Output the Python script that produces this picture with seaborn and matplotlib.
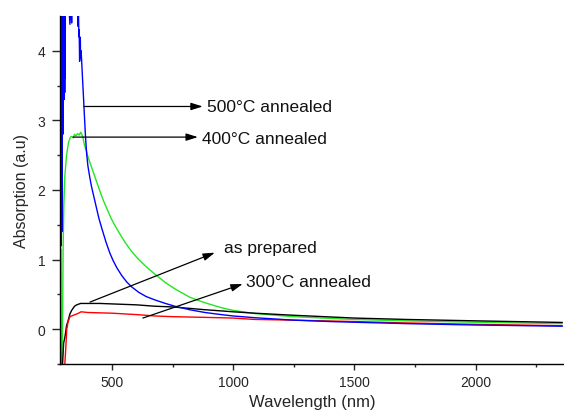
import matplotlib
matplotlib.use("Agg")
import matplotlib.pyplot as plt
import seaborn as sns
import pandas as pd

# ---- data ----
blue_nm = [285.5, 286, 286.5, 287, 287.5, 288, 288.5, 289, 289.5, 290, 290.5, 291, 291.5, 292,
           292.5, 293, 293.5, 294, 294.5, 295, 295.5, 296, 296.5, 297, 297.5, 298, 298.5, 299,
           299.5, 300, 300.5, 301, 301.5, 302, 302.5, 303, 303.5, 304, 304.5, 305, 305.5, 306,
           308, 315, 326, 327, 329, 331, 333, 335, 345, 358,
           360, 361, 363, 364, 366, 367, 369, 370, 372, 374, 378, 382, 386, 390, 395, 400, 408,
           415, 425, 435, 445, 460, 475, 490, 505, 520, 540, 560, 580, 610, 640, 677, 720, 759,
           820, 883, 950, 1000, 1089, 1250, 1400, 1500, 1714, 2000, 2358]
blue_abs = [1.2, 4.7, 1.15, 4.7, 1.5, 4.7, 1.3, 4.7, 1.2, 4.7, 1.6, 4.7, 2.0, 4.7,
            1.4, 4.7, 1.6, 4.7, 2.4, 4.7, 3.0, 4.7, 2.8, 4.7, 3.3, 4.7, 3.1, 4.7,
            3.5, 4.7, 3.3, 4.7, 3.3, 4.7, 3.4, 4.7, 3.6, 4.7, 3.4, 4.7, 3.8, 4.7,
            4.7, 5.0, 4.38, 4.7, 4.45, 4.7, 4.4, 4.7, 5.0, 4.5,
            4.35, 4.6, 4.2, 4.3, 3.85, 4.2, 4.15, 3.9, 4.0, 3.88, 3.6, 3.33, 3.05, 2.78, 2.52, 2.35, 2.18,
            2.05, 1.9, 1.75, 1.6, 1.42, 1.25, 1.1, 0.98, 0.88, 0.77, 0.68, 0.61, 0.53, 0.47, 0.42, 0.37, 0.33,
            0.28, 0.24, 0.21, 0.19, 0.165, 0.13, 0.11, 0.10, 0.08, 0.06, 0.043]

green_nm = [293, 296, 298, 301, 305, 312, 320, 328, 333, 340, 345, 350, 358, 365, 370, 375,
            380, 385, 390, 395, 400, 410, 420, 436, 450, 465, 480, 495, 510, 530, 555, 580,
            610, 640, 677, 720, 759, 820, 883, 950, 1000, 1089, 1175, 1250, 1400, 1500, 1714,
            2000, 2358]
green_abs = [-0.6, 0.3, 1.2, 1.8, 2.2, 2.5, 2.68, 2.76, 2.77, 2.75, 2.8, 2.78, 2.81, 2.79, 2.83, 2.8,
             2.75, 2.66, 2.6, 2.55, 2.48, 2.38, 2.28, 2.12, 1.98, 1.84, 1.72, 1.6, 1.5, 1.38, 1.24, 1.12,
             1.0, 0.9, 0.79, 0.67, 0.58, 0.46, 0.38, 0.31, 0.27, 0.225, 0.2, 0.18, 0.155, 0.14, 0.12,
             0.10, 0.08]

black_nm = [286, 287, 288, 294, 300, 306, 312, 319, 326, 333, 345, 354, 370, 450, 600, 677,
            750, 883, 1000, 1089, 1250, 1500, 1714, 2000, 2358]
black_abs = [-0.6, 1.15, -0.6, -0.6, -0.2, -0.1, 0.05, 0.13, 0.22, 0.27, 0.33, 0.35, 0.37, 0.37, 0.35, 0.33,
             0.32, 0.28, 0.25, 0.23, 0.20, 0.16, 0.14, 0.12, 0.097]

red_nm = [300, 305, 310, 313, 318, 326, 340, 355, 367, 372, 400, 500, 600, 677, 750, 883,
          1000, 1089, 1250, 1500, 1714, 2000, 2358]
red_abs = [-0.6, -0.5, -0.2, 0.0, 0.1, 0.18, 0.2, 0.22, 0.24, 0.25, 0.24, 0.23, 0.21, 0.19, 0.18, 0.17,
           0.16, 0.14, 0.13, 0.11, 0.09, 0.07, 0.05]

series_names = ["500°C annealed", "400°C annealed", "as prepared", "300°C annealed"]
series_colors = ["#0000ff", "#22e622", "#000000", "#ff0000"]

x_ticks = [500, 1000, 1500, 2000]
y_ticks = [0, 1, 2, 3, 4]

# annotations: (label, arrow tail x, tail y, head x, head y, text x, text y)
notes = [
    ("500°C annealed", 384, 3.2, 874, 3.2, 891, 3.2),
    ("400°C annealed", 339, 2.76, 854, 2.76, 870, 2.74),
    ("as prepared", 409, 0.39, 924, 1.10, 961, 1.17),
    ("300°C annealed", 627, 0.16, 1039, 0.65, 1051, 0.68),
]

# ---- build long frame ----
frames = []
for name, xs, ys in [("500°C annealed", blue_nm, blue_abs),
                     ("400°C annealed", green_nm, green_abs),
                     ("as prepared", black_nm, black_abs),
                     ("300°C annealed", red_nm, red_abs)]:
    frames.append(pd.DataFrame({"Wavelength": xs, "Absorption": ys, "Sample": name}))
df = pd.concat(frames, ignore_index=True)

sns.set_style("ticks")
plt.rcParams["font.family"] = ["Liberation Sans", "DejaVu Sans"]

fig = plt.figure(figsize=(5.64, 4.14), dpi=100)
ax = fig.add_axes([60 / 564, 49 / 414, 504 / 564, 348 / 414])

order = ["400°C annealed", "as prepared", "300°C annealed", "500°C annealed"]
pal = dict(zip(series_names, series_colors))
for name in order:
    sub = df[df["Sample"] == name]
    sns.lineplot(data=sub, x="Wavelength", y="Absorption", color=pal[name],
                 estimator=None, sort=False, lw=1.0, ax=ax, legend=False)

ax.set_xlim(285, 2365)
ax.set_ylim(-0.5, 4.5)
ax.set_xticks(x_ticks)
ax.set_yticks(y_ticks)
ax.set_xticks([750, 1250, 1750, 2250], minor=True)
ax.set_yticks([-0.5, 0.5, 1.5, 2.5, 3.5], minor=True)
ax.tick_params(axis="x", which="major", direction="out", length=4.2, width=1.0, labelsize=10, pad=4)
ax.tick_params(axis="x", which="minor", direction="out", length=2.0, width=1.0)
ax.tick_params(axis="y", which="major", direction="out", length=5.5, width=1.0, labelsize=10, pad=5)
ax.tick_params(axis="y", which="minor", direction="out", length=2.5, width=1.0)

for s in ["top", "right"]:
    ax.spines[s].set_visible(False)
for s in ["left", "bottom"]:
    ax.spines[s].set_linewidth(1.0)
    ax.spines[s].set_color("black")

ax.set_xlabel("Wavelength (nm)", fontsize=12, labelpad=3)
ax.set_ylabel("Absorption (a.u)", fontsize=11.5, labelpad=6)

for label, x0, y0, x1, y1, tx, ty in notes:
    ax.annotate("", xy=(x1, y1), xytext=(x0, y0),
                arrowprops=dict(arrowstyle="-|>,head_length=0.7,head_width=0.22",
                                color="black", lw=0.9, shrinkA=0, shrinkB=0,
                                mutation_scale=10))
    ax.text(tx, ty, label, fontsize=12.5, ha="left", va="center", color="#111111")

fig.savefig("out.png", dpi=100)
